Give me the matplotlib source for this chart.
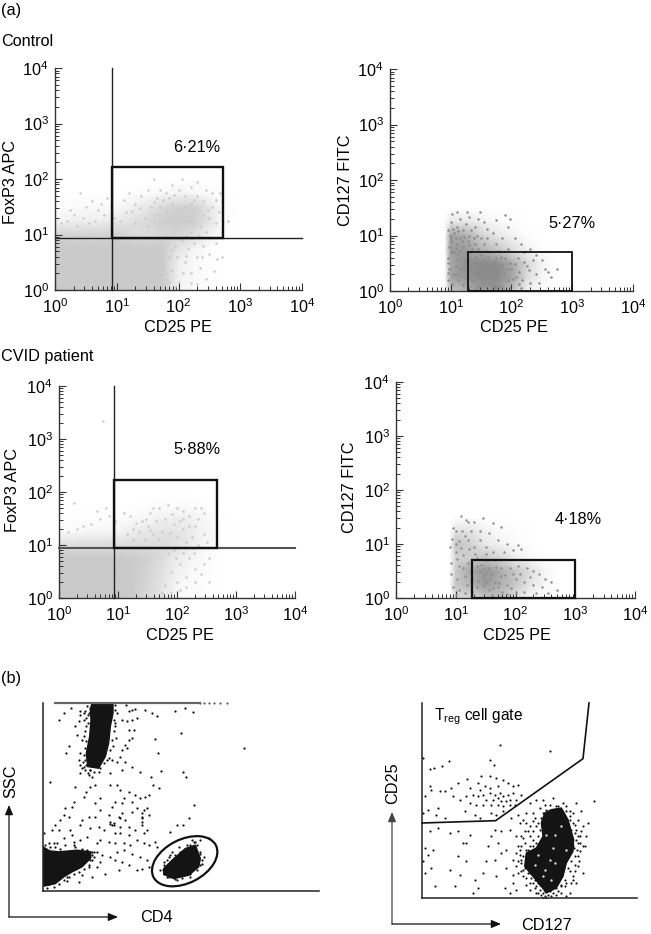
import numpy as np
import matplotlib
matplotlib.use("Agg")
import matplotlib.pyplot as plt
from matplotlib.colors import LinearSegmentedColormap
from matplotlib.patches import Ellipse, FancyArrowPatch, Polygon, Rectangle
from matplotlib.ticker import LogLocator, LogFormatterMathtext, NullFormatter

plt.rcParams["font.family"] = ["Liberation Sans", "DejaVu Sans"]
W, H = 651, 934

# ---------- flow-cytometry data, log10 units ----------
a_grid_x = [0, .25, .5, .75, 1, 1.25, 1.5, 1.75, 2, 2.25, 2.5, 2.75, 3]
a_grid_y = [0, .25, .5, .75, 1, 1.25, 1.5, 1.75, 2]
a_density = [
    [1, 1, 1, 1, 1, 1, 1, .95, .2, .08, .03, 0, 0],
    [1, 1, 1, 1, 1, 1, 1, .95, .25, .1, .03, 0, 0],
    [1, 1, 1, 1, 1, 1, 1, .95, .3, .1, .03, 0, 0],
    [1, 1, 1, 1, 1, 1, 1, .95, .5, .2, .05, 0, 0],
    [.8, .8, .8, .8, .85, .7, .65, .75, .75, .6, .25, .03, 0],
    [.2, .25, .3, .3, .4, .55, .7, .9, .95, .9, .5, .06, 0],
    [.02, .05, .1, .12, .12, .25, .45, .7, .85, .85, .45, .06, 0],
    [0, 0, .01, .01, .01, .03, .06, .12, .2, .15, .06, 0, 0],
    [0, 0, 0, 0, 0, 0, 0, 0, 0, 0, 0, 0, 0],
]
a_dots = [(1.8,.2),(1.9,.35),(2.0,.15),(2.1,.5),(2.2,.3),(2.3,.6),(2.15,.75),(2.4,.8),(2.5,.65),(2.6,.85),
 (2.35,.4),(1.85,.6),(1.95,.8),(2.05,.9),(2.25,.85),(1.78,.1),(2.3,.1),(2.45,.2),(1.95,.05),(1.6,2.0),(1.9,1.9),
 (2.05,2.0),(2.3,1.95),(2.2,1.85),(2.45,1.8),(2.55,1.75),(2.7,1.6),(2.65,1.4),(2.8,1.25),(1.2,1.75),(1.4,1.7),
 (1.5,1.8),(1.7,1.8),(1.8,1.75),(2.0,1.8),(1.65,1.65),(1.85,1.65),(2.1,1.7),(2.3,1.7),(2.4,1.6),(2.55,1.5),
 (2.6,1.2),(2.7,1.05),(1.3,1.55),(1.15,1.4),(1.05,1.25),(.4,1.75),(.5,1.5),(.6,1.6),(.7,1.45),(.3,1.35),
 (.45,1.3),(.2,1.25),(.8,1.35),(.9,1.5),(.85,1.65),(.65,1.25),(.35,1.15),(.1,1.2),(.75,1.55),(1.55,1.5),
 (1.7,1.5),(1.8,1.4),(1.9,1.55),(2.0,1.45),(2.1,1.5),(2.2,1.55),(2.3,1.45),(2.4,1.35),(1.6,1.35),(1.45,1.3),
 (1.3,1.2),(1.5,1.15),(1.75,1.2),(1.95,1.25),(2.15,1.25),(2.35,1.15),(2.5,1.3),(2.45,1.05),(2.2,1.05),(1.9,1.05),
 (1.72,.85),(1.82,.98),(2.12,.98),(2.32,1.0),(2.52,.95),(1.98,.6),(2.08,.3),(2.2,.12),(2.58,.35),(2.7,.6),
 (1.75,.4),(1.85,.15),(1.9,.72),(2.12,.62),(2.38,.6),(2.62,.55),(.55,1.2),(.25,1.45),(.95,1.3),(1.12,1.62),
 (1.25,1.42),(1.38,1.48),(1.6,1.58),(1.75,1.62),(1.92,1.72),(2.25,1.62),(2.48,1.45),(2.6,1.62),(2.68,1.75)]
a_gate_cd25, a_gate_foxp3 = [0.93, 2.72], [0.93, 2.22]

b_grid_x = [.75, .9, 1.0, 1.25, 1.5, 1.75, 2, 2.25, 2.5, 2.75]
b_grid_y = [0, .25, .5, .75, 1, 1.25, 1.5]
b_density = [
    [0, 0, .5, .65, .85, .9, .55, .12, .02, 0],
    [0, 0, .8, .9, 1, 1, .8, .3, .08, 0],
    [0, 0, .75, .95, 1, 1, .75, .35, .1, 0],
    [0, 0, .85, .85, .65, .5, .3, .1, .02, 0],
    [0, 0, .8, .7, .4, .22, .1, .02, 0, 0],
    [0, 0, .2, .2, .12, .05, .02, 0, 0, 0],
    [0, 0, 0, 0, 0, 0, 0, 0, 0, 0],
]
b_dots = [(1.02,1.38),(1.1,1.42),(1.27,1.42),(1.48,1.43),(1.9,1.37),(1.98,1.3),(1.75,1.28),(1.95,1.15),
 (1.0,1.25),(1.15,1.3),(1.3,1.33),(1.45,1.3),(1.55,1.25),(1.25,1.2),(1.6,1.12),(1.4,1.15),(1.1,1.15),(.95,1.1),
 (1.7,1.05),(1.85,.95),(2.05,.95),(2.15,.85),(2.2,.7),(2.3,.75),(2.4,.65),(2.5,.55),(2.55,.4),(2.6,.35),
 (2.65,.25),(2.75,.4),(2.4,.3),(2.3,.15),(2.45,.15),(2.15,.05),(2.25,.45),(2.1,.6),(1.95,.75),(1.75,.85),
 (1.5,.95),(1.3,1.0),(1.15,.95),(1.0,.95),(.97,.8),(1.05,.7),(1.2,.8),(1.35,.75),(1.5,.65),(.95,.6),(1.1,.55),
 (1.25,.55),(.97,.4),(1.05,.3),(1.15,.4),(.95,.2),(1.02,.12),(1.2,.1),(1.35,.2),(1.3,.38),(1.5,.25),(1.6,.5),
 (1.7,.3),(1.85,.45),(1.95,.2),(1.65,.12),(1.45,.08),(1.8,.1),(2.0,.4),(2.08,.25),(1.55,.4),(1.75,.6),(1.4,.5),
 (1.9,.6),(1.65,.7),(1.2,1.1),(1.05,1.05),(.98,1.0),(1.1,.85),(1.28,.9),(1.4,.85),
 (1.0,.7),(1.0,.9),(1.03,1.12),(1.08,.78),(1.08,.95),(1.12,1.08),(1.15,.72),(1.18,.9),(1.22,.98),(1.25,.7),
 (1.3,.82),(1.33,1.1),(1.38,.95),(1.43,1.0),(1.45,.75),(1.55,.85),(1.6,.95),(1.12,.65),(.96,.5),(1.08,.45),
 (.96,.32),(1.1,.3),(1.22,.42),(1.32,.55),(1.38,.3),(1.42,.62),(1.48,.48),(1.52,.15),(1.55,.55),(1.58,.32),
 (1.62,.62),(1.66,.2),(1.68,.42),(1.72,.52),(1.78,.22),(1.8,.35),(1.82,.62),(1.88,.32),(1.92,.4),(1.98,.5),
 (2.02,.22),(2.05,.48),(2.12,.35),(2.18,.2),(2.2,.52),(2.28,.38),(1.25,.25),(1.12,.2),(1.4,.03),(1.6,.02),
 (1.85,.02),(1.3,.08),(2.35,.55),(2.12,.12),(1.47,.33),(1.73,.08),(1.58,.72),(1.8,.72)]
b_gate_cd25, b_gate_cd127 = [1.28, 3.0], [0.0, 0.71]

c_grid_x = [0, .25, .5, .75, 1, 1.25, 1.5, 1.75, 2, 2.25, 2.5, 2.75, 3]
c_grid_y = [0, .25, .5, .75, 1, 1.25, 1.5, 1.75, 2]
c_density = [
    [1, 1, 1, 1, 1, .95, .7, .5, .12, .05, .02, 0, 0],
    [1, 1, 1, 1, 1, .95, .75, .5, .15, .08, .03, 0, 0],
    [1, 1, 1, 1, 1, .95, .8, .55, .25, .1, .05, 0, 0],
    [1, 1, 1, 1, 1, .95, .85, .65, .35, .18, .06, 0, 0],
    [.65, .65, .65, .65, .65, .65, .65, .65, .55, .35, .12, .02, 0],
    [.08, .1, .15, .15, .2, .35, .45, .5, .5, .35, .18, .02, 0],
    [.01, .02, .03, .03, .04, .1, .15, .25, .3, .25, .12, .02, 0],
    [0, 0, 0, 0, 0, .01, .02, .05, .07, .05, .03, 0, 0],
    [0, 0, 0, 0, 0, 0, 0, 0, 0, 0, 0, 0, 0],
]
c_dots = [(.75,3.34),(.25,1.8),(.8,1.7),(.65,1.65),(.4,1.35),(.3,1.3),(.15,1.25),(.55,1.4),(.7,1.5),(.85,1.55),
 (.95,1.45),(1.1,1.6),(1.25,1.3),(1.4,1.45),(1.55,1.6),(1.6,1.7),(1.7,1.7),(1.85,1.75),(2,1.7),(2.1,1.65),
 (2.3,1.7),(2.4,1.7),(2.45,1.6),(2.2,1.55),(2.3,1.35),(2.45,1.2),(2.5,1.05),(2.35,1.0),(2.45,.65),(2.3,.55),
 (2.15,.4),(2.2,.75),(2.05,.65),(2.0,.3),(1.9,.5),(2.05,.15),(1.9,.12),(1.8,.25),(2.3,.3),(1.85,.85),(1.95,.9),
 (1.2,1.55),(1.35,1.25),(1.5,1.35),(1.65,1.45),(1.8,1.5),(1.95,1.4),(2.1,1.3),(1.75,1.25),(1.6,1.2),(1.45,1.1),
 (1.25,1.1),(2.25,1.15),(2.0,1.15),(2.15,1.05),(1.15,1.2),(1.3,1.42),(1.55,1.28),(1.7,1.12),(1.88,1.22),(2.05,1.45),
 (2.2,1.35),(2.35,1.5),(1.48,1.5),(1.92,1.58),(2.1,1.5),(1.98,.75),(2.1,.85),(2.28,.85),(2.4,.45),(2.55,.75),
 (1.75,.1),(2.15,.2),(2.55,.3)]
c_gate_cd25, c_gate_foxp3 = [0.93, 2.68], [0.95, 2.22]

d_density = [
    [0, 0, .3, .35, .5, .55, .25, .08, .02, 0],
    [0, 0, .5, .65, .9, .7, .5, .22, .06, 0],
    [0, 0, .45, .8, .95, .75, .5, .3, .08, 0],
    [0, 0, .4, .45, .5, .35, .15, .05, 0, 0],
    [0, 0, .55, .4, .2, .1, .05, 0, 0, 0],
    [0, 0, .25, .25, .1, .05, .02, 0, 0, 0],
    [0, 0, 0, 0, 0, 0, 0, 0, 0, 0],
]
d_dots = [(1.08,1.52),(1.17,1.45),(1.45,1.49),(1.3,1.4),(1.2,1.4),(1.62,1.38),(1.75,1.32),(1.0,1.25),(.95,1.3),
 (1.1,1.25),(1.25,1.25),(1.4,1.25),(1.55,1.2),(1.7,1.08),(1.85,1.0),(2.05,.98),(2.1,.9),(1.95,.88),(1.8,.85),
 (.93,1.1),(1.05,1.05),(1.2,1.08),(1.3,.95),(1.5,.95),(1.4,1.08),(.9,.95),(1.0,.85),(1.12,.8),(.92,.65),(1.05,.6),
 (1.2,.65),(1.35,.75),(1.5,.7),(1.65,.7),(.92,.45),(1.02,.35),(1.15,.4),(1.28,.35),(1.4,.5),(1.6,.45),(1.75,.55),
 (1.9,.55),(2.05,.6),(2.2,.55),(2.3,.5),(2.4,.45),(2.5,.35),(2.6,.3),(2.7,.15),(2.45,.2),(2.3,.25),(2.15,.3),
 (2.0,.35),(1.85,.25),(1.7,.2),(1.55,.15),(1.35,.2),(1.15,.1),(1.05,.15),(.95,.2),(1.0,.05),(1.3,.02),(1.6,.05),
 (1.85,.08),(2.0,.1),(2.15,.12),(1.5,.3),(1.65,.3),(1.45,.4),(1.75,.4),(1.25,.5),(2.55,.1),
 (1.0,1.0),(1.08,.92),(1.15,1.15),(1.22,.9),(1.33,.82),(1.42,.62),(1.55,.55),(1.68,.58),(1.82,.42),(1.95,.45),
 (1.35,.6),(1.48,.55),(1.58,.35),(1.38,.32),(1.72,.28),(1.92,.18),(2.08,.45),(2.25,.38),(1.18,.25),(1.28,.12),
 (1.12,.55),(1.45,.22),(1.62,.18),(1.78,.12),(2.35,.1),(1.5,.82),(1.62,.85),(1.02,.72)]
d_gate_cd25, d_gate_cd127 = [1.28, 3.0], [0.0, 0.7]

# ---------- part (b): instrument channels ----------
e_blob_top = [(147,562),(210,562),(210,532),(202,492),(197,442),(187,402),(167,367),(134,372),(130,412),(140,462),(144,512),(142,542)]
e_blob_left = [(0,132),(20,120),(47,117),(102,122),(144,117),(142,97),(117,72),(87,57),(62,42),(37,22),(0,14)]
e_blob_gate = [(362,67),(387,92),(427,127),(457,137),(472,97),(467,72),(437,47),(392,37),(362,50)]
e_top_events_x = [37, 472, 482, 497, 512, 532, 552]
e_dots_raw = [(213,115),(190,130),(177,150),(240,125),(235,155),(225,170),(250,130),(258,145),(262,160),(255,185),
 (230,195),(205,230),(198,250),(245,210),(240,250),(235,270),(250,290),(240,310),(265,315),(275,320),(295,305),
 (310,280),(325,265),(335,270),(350,275),(360,260),(375,275),(395,290),(365,300),(330,310),(340,150),(350,130),
 (365,150),(378,105),(385,125),(395,120),(405,118),(380,155),(395,150),(410,145),(345,170),(385,182),(400,182),
 (395,205),(385,210),(375,225),(365,240),(380,235),(348,205),(338,230),(435,120),(455,130),(470,140),(525,125),
 (555,115),(578,127),(542,190),(465,208),(730,235),(473,250),(483,303),(548,305),(558,322),(420,305),(452,322),
 (150,337),(225,352),(268,350),(258,365),(285,345),(330,345),(350,345),(360,360),(385,365),(458,345),(475,355),
 (445,375),(435,380),(405,375),(418,385),(395,395),(370,385),(365,400),(345,395),(335,410),(300,385),(285,400),
 (250,380),(220,395),(215,410),(195,415),(190,435),(205,440),(180,450),(165,465),(155,480),(175,480),(210,480),
 (240,465),(245,450),(265,440),(285,440),(300,420),(325,435),(330,455),(340,465),(355,440),(365,430),(375,450),
 (385,470),(395,425),(410,415),(430,420),(440,415),(445,435),(425,445),(425,465),(405,480),(430,490),(440,480),
 (385,495),(360,490),(345,490),(310,480),(295,470),(270,475),(260,500),(240,510),(215,495),(190,505),(170,520),
 (145,520),(130,490),(220,525),(290,520),(300,510),(325,515),(345,520),(370,520),(390,525),(410,510),(430,520),
 (445,525),(465,515),(470,530),(350,545),(370,540),(395,550),(420,560),(440,570),(290,545),(305,555),(330,560),
 (345,570),(365,575),(385,585),(410,600),(425,595),(445,590),(355,600),(315,610),(290,590),(275,620),(235,635),
 (245,615),(300,575),(510,485),(530,465),(548,465),(565,445),(580,405),(625,503),(600,510),(585,515),(570,525),
 (535,530),(515,545),(505,560),(490,575),(480,600),(500,620),(530,628),(570,620),(610,560),(600,550),(605,580),
 (335,465),(340,460),(330,462),(425,430),(425,440),(425,455),(360,445),(360,470),(265,130),(270,200),(262,245),
 (255,270),(268,300),(270,280),(145,640),(200,620),(270,570),(280,560),(275,545),(265,590),(160,520),
 (255,125),(262,135),(250,150),(258,170),(250,200),(258,215),(255,235),(250,255),(248,275),(258,285),(245,295),
 (270,300),(280,305),(300,295),(320,270),(330,240),(335,210),(340,185),(345,160),(345,120),(345,105),(260,110),
 (268,115),(240,135),(262,310),(255,300),(238,285),(135,525),(150,530),(165,530),(180,535),(195,525),(220,515),
 (225,530),(245,535),(260,540),(275,555),(280,545),(275,570),(265,585),(250,595),(235,605),(220,610),(205,620),
 (190,630),(175,640),(160,650),(140,652),(200,632),(270,560),(510,555),(500,570),(490,585),(488,600),(492,612),
 (505,620),(525,625),(545,622),(570,612),(590,600),(600,585),(605,570),(600,545),(590,525),(580,515),(560,525),
 (540,545),(525,555),(575,510)]

f_blob_main = [(388,265),(418,270),(438,235),(455,175),(453,140),(433,105),(423,65),(403,30),(373,15),(358,35),
 (333,65),(308,95),(313,135),(343,150),(363,185),(358,225),(368,255)]
f_blob_specks = [(398,190),(373,190),(348,130),(383,115),(393,150),(433,145),(338,100),(368,85),(398,105),(363,65),(388,55),(418,215)]
f_gate_cd127 = [0, 221, 483, 501]
f_gate_cd25 = [225, 232, 418, 585]
f_dots_raw = [(392,197),(540,213),(237,245),(218,258),(193,265),(180,268),(362,242),(372,255),(160,235),(335,290),
 (360,290),(380,295),(292,298),(400,300),(180,320),(185,330),(165,350),(210,335),(225,335),(265,310),(245,325),
 (325,310),(300,325),(330,330),(345,320),(360,325),(385,320),(415,310),(430,318),(445,315),(250,350),(270,360),
 (290,350),(310,345),(325,350),(340,345),(360,340),(375,345),(390,340),(400,350),(415,345),(430,340),(350,360),
 (370,360),(385,355),(395,365),(410,365),(420,360),(440,360),(455,345),(300,370),(320,375),(340,375),(365,375),
 (385,375),(400,380),(420,375),(435,375),(205,385),(175,390),(160,400),(200,405),(225,415),(285,395),(315,405),
 (330,415),(365,400),(380,405),(400,395),(672,363),(180,455),(205,445),(240,460),(265,455),(280,490),(290,490),
 (300,465),(165,505),(190,510),(175,525),(160,545),(185,565),(165,580),(195,620),(255,620),(240,570),(265,530),
 (270,585),(290,545),(315,600),(325,625),(310,640),(340,580),(350,545),(355,500),(365,470),(375,450),(395,455),
 (385,490),(395,520),(410,510),(375,540),(410,565),(380,590),(405,625),(420,640),(440,630),(430,585),(430,540),
 (445,500),(440,470),(420,450),(450,430),(425,415),(445,405),(470,400),(480,370),(500,360),(520,360),(550,355),
 (590,380),(620,370),(635,395),(655,430),(640,440),(650,470),(630,490),(645,500),(625,530),(640,580),(610,590),
 (620,610),(600,640),(585,620),(590,650),(460,590),(470,615),(480,630),(500,640),(520,655),(545,650),(560,645),
 (575,640),(455,550),(450,525),(465,490),(480,470),(490,455),(500,440),(495,415),(510,385),(525,375),(610,400),
 (625,420),(620,450),(635,455),(630,515),(615,555),(600,575),(590,610),(470,535),(460,570),(490,610),(510,630),
 (505,610),(470,430),(480,440),(465,455),(440,520),(440,560),(445,580),(430,610),(520,640),(535,645),(460,420),
 (490,400),(600,395),(615,435),(625,470),(612,505),(625,560),(605,610),(575,620),(565,380),(540,375),(580,370),
 (475,580),(485,595),(500,620),(515,645),(530,655),(540,630),(480,500),(475,455),(490,425),(455,470),(455,500),
 (480,520),(470,510),(460,530),(455,540),(490,480),(505,470),(510,450),(505,430),(515,415),(520,400),(530,390),
 (560,378),(590,395),(600,410),(610,430),(615,460),(625,490),(622,510),(615,530),(605,545),(595,565),(585,600),
 (575,615),(565,635),(550,640),(525,635),(510,615),(495,600),(480,580),(465,565),(455,575),(445,545),(450,510),
 (460,475),(475,510),(490,500),(500,490),(512,490),(610,500),(618,480),(605,450),(600,420),(632,470),(640,500),
 (628,545),(615,575),(610,600),(560,625),(540,635),(500,600),(490,585),(470,595),(480,610),(495,625),(505,640),(525,650)]

# ---------- text ----------
x_label = "CD25 PE"
foxp3_label = "FoxP3 APC"
cd127_label = "CD127 FITC"
percent_labels = ["6\u00b721%", "5\u00b727%", "5\u00b788%", "4\u00b718%"]

fig = plt.figure(figsize=(W / 100, H / 100), dpi=100, facecolor="white")

def axes_px(x0, y_top, x1, y_bottom):
    return fig.add_axes([x0 / W, 1 - y_bottom / H, (x1 - x0) / W, (y_bottom - y_top) / H])

def ftext(x, y, s, **kw):
    kw.setdefault("fontsize", 11.7)
    kw.setdefault("ha", "left")
    kw.setdefault("va", "center")
    fig.text(x / W, 1 - y / H, s, **kw)

def flow_panel(box, grid_x, grid_y, density, dots, colour, gate, ylabel, xlabel_xy, ylabel_xy, gate_lw=1.7):
    ax = axes_px(*box)
    ax.set_xscale("log"); ax.set_yscale("log")
    ax.set_xlim(1, 1e4); ax.set_ylim(1, 1e4)
    cmap = LinearSegmentedColormap.from_list("d", ["white", colour])
    X, Y = np.meshgrid(10.0 ** np.array(grid_x), 10.0 ** np.array(grid_y))
    ax.pcolormesh(X, Y, np.array(density), cmap=cmap, vmin=0, vmax=1, shading="gouraud", zorder=1, rasterized=True)
    pts = np.array(dots)
    ax.scatter(10 ** pts[:, 0], 10 ** pts[:, 1], s=3.2, color=colour, linewidths=0, zorder=2)
    ax.add_patch(Rectangle((10 ** gate[0][0], 10 ** gate[1][0]),
                           10 ** gate[0][1] - 10 ** gate[0][0], 10 ** gate[1][1] - 10 ** gate[1][0],
                           fill=False, ec="#111111", lw=gate_lw, zorder=4, clip_on=False))
    for s in ("top", "right"):
        ax.spines[s].set_visible(False)
    for s in ("left", "bottom"):
        ax.spines[s].set_linewidth(1.0)
        ax.spines[s].set_color("#333333")
    for axis in (ax.xaxis, ax.yaxis):
        axis.set_major_locator(LogLocator(base=10, numticks=6))
        axis.set_minor_locator(LogLocator(base=10, subs=range(2, 10), numticks=6))
        axis.set_major_formatter(LogFormatterMathtext())
        axis.set_minor_formatter(NullFormatter())
    ax.tick_params(which="major", direction="in", length=5, width=0.8, labelsize=11.7, color="#333333")
    ax.tick_params(axis="x", which="major", pad=5)
    ax.tick_params(axis="y", which="major", pad=4.5)
    ax.tick_params(which="minor", direction="in", length=3.2, width=0.7, color="#333333")
    ax.patch.set_alpha(0)
    ftext(*xlabel_xy, x_label, ha="center")
    ftext(*ylabel_xy, ylabel, ha="center", rotation=90)
    return ax

# Panels (a)
ax_a = flow_panel((55, 68, 302, 290), a_grid_x, a_grid_y, a_density, a_dots, "#c9c9c9",
                  (a_gate_cd25, a_gate_foxp3), foxp3_label, (178, 328), (11, 182))
ax_a.plot([10 ** a_gate_cd25[0]] * 2, [1, 1e4], color="#222222", lw=1.0, zorder=3, clip_on=False)
ax_a.plot([1, 1e4], [10 ** a_gate_foxp3[0]] * 2, color="#222222", lw=1.0, zorder=3, clip_on=False)

ax_b = flow_panel((390, 69, 633, 291), b_grid_x, b_grid_y, b_density, b_dots, "#8b8b8b",
                  (b_gate_cd25, b_gate_cd127), cd127_label, (514, 328), (346, 180), gate_lw=1.3)

ax_c = flow_panel((59, 386, 295, 598), c_grid_x, c_grid_y, c_density, c_dots, "#c9c9c9",
                  (c_gate_cd25, c_gate_foxp3), foxp3_label, (180, 636), (13, 490))
ax_c.plot([10 ** c_gate_cd25[0]] * 2, [1, 1e4], color="#222222", lw=1.0, zorder=3, clip_on=False)
ax_c.plot([1, 1e4], [10 ** c_gate_foxp3[0]] * 2, color="#555555", lw=1.5, zorder=3, clip_on=False)

ax_d = flow_panel((396, 382, 635, 598), b_grid_x, b_grid_y, d_density, d_dots, "#909090",
                  (d_gate_cd25, d_gate_cd127), cd127_label, (517, 636), (350, 487), gate_lw=1.6)

# Panel (b) left
ax_e = axes_px(43, 703, 318.7, 891)
ax_e.set_xlim(0, 827); ax_e.set_ylim(0, 562)
for blob in (e_blob_top, e_blob_left, e_blob_gate):
    ax_e.add_patch(Polygon(blob, closed=True, fc="#141414", ec="#141414", lw=1, joinstyle="round", zorder=2))
e_pts = np.array(e_dots_raw)
ax_e.scatter(e_pts[:, 0] - 128, 662 - e_pts[:, 1], s=2.6, color="#111111", linewidths=0, zorder=2)
ax_e.plot([e_top_events_x[0], 472], [562, 562], color="#666666", lw=1.6, zorder=2, clip_on=False)
ax_e.scatter(e_top_events_x[1:], [562] * 6, s=2.4, color="#555555", linewidths=0, clip_on=False)
ax_e.add_patch(Ellipse((425, 89), 210, 130, angle=27, fill=False, ec="#111111", lw=1.6, zorder=3))

# Panel (b) right
ax_f = axes_px(422, 703, 637, 898)
ax_f.set_xlim(0, 645); ax_f.set_ylim(0, 585)
ax_f.add_patch(Polygon(f_blob_main, closed=True, fc="#141414", ec="#141414", lw=1, zorder=2))
f_pts = np.array(f_dots_raw)
ax_f.scatter(f_pts[:, 0] - 157, 655 - f_pts[:, 1], s=2.4, color="#111111", linewidths=0, zorder=2)
sp = np.array(f_blob_specks)
ax_f.scatter(sp[:, 0], sp[:, 1], s=3, color="#dddddd", linewidths=0, zorder=3)
ax_f.plot(f_gate_cd127, f_gate_cd25, color="#111111", lw=1.2, zorder=3, clip_on=False)

for ax in (ax_e, ax_f):
    ax.set_xticks([]); ax.set_yticks([])
    ax.patch.set_alpha(0)
    for s in ("top", "right"):
        ax.spines[s].set_visible(False)
    for s in ("left", "bottom"):
        ax.spines[s].set_linewidth(1.1)
        ax.spines[s].set_color("#222222")

# Arrows for part (b)
def arrow(p0, p1, colour="#111111"):
    fig.add_artist(FancyArrowPatch((p0[0] / W, 1 - p0[1] / H), (p1[0] / W, 1 - p1[1] / H),
                                   transform=fig.transFigure, arrowstyle="-|>,head_length=3.6,head_width=1.5",
                                   shrinkA=0, shrinkB=0, color=colour, lw=0.9, mutation_scale=1.6))
arrow((9, 917), (9, 805))
arrow((9, 917), (118, 917))
arrow((392, 924), (392, 812), "#444444")
arrow((392, 924), (501, 924))

# Text
ftext(1, 10, "(a)")
ftext(1, 41, "Control")
ftext(1, 357, "CVID patient")
ftext(1, 679, "(b)")
ftext(197, 147, percent_labels[0], ha="center")
ftext(572, 224, percent_labels[1], ha="center")
ftext(197, 450, percent_labels[2], ha="center")
ftext(578, 519, percent_labels[3], ha="center")
ftext(434, 717, r"T$_{\mathregular{reg}}$ cell gate", fontsize=11.2)
ftext(11, 781, "SSC", rotation=90, ha="center")
ftext(156, 918, "CD4", ha="center")
ftext(393, 783, "CD25", rotation=90, ha="center")
ftext(547, 925, "CD127", ha="center")

fig.savefig("out.png", dpi=100, facecolor="white")
